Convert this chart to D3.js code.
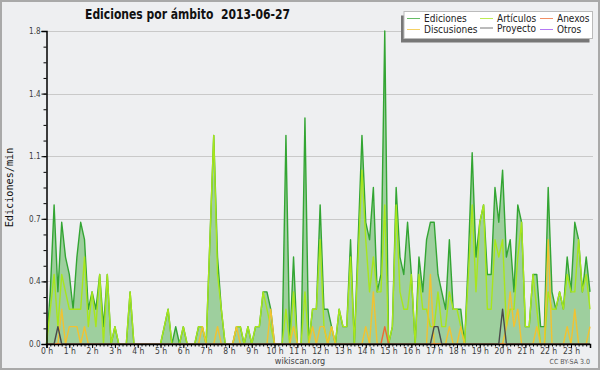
<!DOCTYPE html>
<html>
<head>
<meta charset="utf-8">
<script src="https://cdn.jsdelivr.net/npm/d3@7"></script>
<style>
  body { margin: 0; background: #eeeff1; }
  svg text { font-family: "DejaVu Sans Condensed", "DejaVu Sans", sans-serif; font-stretch: condensed; }
</style>
</head>
<body>
<div id="chart"></div>
<script>
// edits per minute, one value every 10 minutes (6 per hour, 0h .. 23h50)
var ediciones = [
  0, 0.3, 0.8, 0.3, 0.7, 0.5,
  0.4, 0.2, 0.5, 0.7, 0.6, 0.2,
  0.3, 0.2, 0.4, 0.1, 0.4, 0,
  0.1, 0, 0, 0, 0.3, 0,
  0, 0, 0, 0, 0, 0,
  0, 0.1, 0.2, 0, 0.1, 0,
  0.1, 0, 0, 0, 0.1, 0.1,
  0, 0.6, 1.2, 0.5, 0.2, 0,
  0, 0, 0.1, 0.1, 0, 0.1,
  0, 0.1, 0.1, 0.3, 0.3, 0.2,
  0, 0, 0, 1.2, 0, 0.5,
  0, 0, 1.3, 0, 0.2, 0.2,
  0.8, 0.2, 0.2, 0.1, 0, 0.2,
  0.1, 0.1, 0.6, 0, 0.6, 1.2,
  0.7, 0.6, 0.9, 0.3, 0.4, 1.8,
  0, 0.1, 0.9, 0.5, 0.4, 0.7,
  0.4, 0, 0.5, 0.3, 0.6, 0.7,
  0.7, 0.4, 0.3, 0.2, 0.6, 0.2,
  0.2, 0.2, 0, 0.5, 1.1, 0.5,
  0.7, 0.8, 0.4, 0.4, 0.9, 0.7,
  1.0, 0.5, 0.6, 0.3, 0.8, 0.7,
  0.1, 0.1, 0.4, 0.4, 0.1, 0.1,
  0.9, 0.3, 0.2, 0.3, 0.2, 0.5,
  0.3, 0.7, 0.6, 0.3, 0.5, 0.3
];
var articulos = [
  0, 0.2, 0.4, 0.1, 0.4, 0.3,
  0.2, 0.2, 0.2, 0.2, 0.5, 0.1,
  0.3, 0.1, 0.4, 0, 0.4, 0,
  0.1, 0, 0, 0, 0.3, 0,
  0, 0, 0, 0, 0, 0,
  0, 0.1, 0.2, 0, 0, 0,
  0.1, 0, 0, 0, 0.1, 0.1,
  0, 0.6, 1.2, 0.4, 0.2, 0,
  0, 0, 0.1, 0.1, 0, 0.1,
  0, 0.1, 0.1, 0.3, 0.2, 0.1,
  0, 0, 0, 0.2, 0, 0.3,
  0, 0, 0.3, 0, 0.2, 0.2,
  0.6, 0.1, 0, 0.1, 0, 0.2,
  0.1, 0.1, 0.5, 0, 0.5, 1.0,
  0.6, 0.3, 0.5, 0.3, 0.3, 0.8,
  0, 0.1, 0.8, 0.3, 0.2, 0.2,
  0.4, 0, 0.4, 0.2, 0.2, 0.1,
  0.1, 0.3, 0.1, 0.1, 0.3, 0.2,
  0.2, 0.1, 0, 0.4, 0.8, 0.3,
  0.7, 0.8, 0.2, 0.2, 0.6, 0.5,
  0.6, 0.1, 0.2, 0.2, 0.5, 0.7,
  0.1, 0.1, 0.4, 0.2, 0, 0,
  0.3, 0.2, 0.2, 0.3, 0.2, 0.4,
  0.3, 0.3, 0.6, 0.3, 0.4, 0.2
];
var discusiones = [
  0, 0, 0, 0, 0.2, 0,
  0.1, 0.1, 0.1, 0, 0.1, 0,
  0, 0, 0, 0, 0, 0,
  0, 0, 0, 0, 0, 0,
  0, 0, 0, 0, 0, 0,
  0, 0, 0, 0, 0, 0,
  0, 0, 0, 0, 0, 0.1,
  0, 0, 0, 0.1, 0, 0,
  0, 0, 0.1, 0, 0, 0,
  0, 0, 0, 0, 0, 0.2,
  0, 0, 0, 0, 0, 0.1,
  0, 0, 0, 0, 0.1, 0,
  0.1, 0.1, 0, 0.1, 0, 0,
  0, 0, 0, 0, 0, 0,
  0.1, 0, 0.3, 0, 0, 0,
  0, 0, 0, 0, 0, 0,
  0, 0, 0, 0, 0, 0.4,
  0, 0, 0, 0, 0.1, 0,
  0, 0.1, 0, 0, 0, 0,
  0, 0, 0, 0, 0, 0,
  0, 0.1, 0.3, 0.1, 0.2, 0,
  0, 0, 0, 0.1, 0, 0,
  0.6, 0, 0, 0, 0, 0.1,
  0, 0.2, 0, 0, 0, 0.1
];
var anexos = [
  0, 0, 0, 0, 0, 0,
  0, 0, 0, 0, 0, 0,
  0, 0, 0, 0, 0, 0,
  0, 0, 0, 0, 0, 0,
  0, 0, 0, 0, 0, 0,
  0, 0, 0, 0, 0, 0,
  0, 0, 0, 0, 0, 0,
  0, 0, 0, 0, 0, 0,
  0, 0, 0, 0, 0, 0,
  0, 0, 0, 0, 0, 0,
  0, 0, 0, 0, 0, 0,
  0, 0, 0, 0, 0, 0,
  0, 0, 0, 0, 0, 0,
  0, 0, 0, 0, 0, 0,
  0, 0, 0, 0, 0, 0.1,
  0, 0, 0, 0, 0, 0,
  0, 0, 0, 0, 0, 0,
  0, 0, 0, 0, 0, 0,
  0, 0, 0, 0, 0, 0,
  0, 0, 0, 0, 0, 0,
  0, 0, 0, 0, 0, 0,
  0, 0, 0, 0, 0, 0,
  0, 0, 0, 0, 0, 0,
  0, 0, 0, 0, 0, 0
];
var proyecto = [
  0, 0, 0, 0.1, 0, 0,
  0, 0, 0, 0, 0, 0,
  0, 0, 0, 0, 0, 0,
  0, 0, 0, 0, 0, 0,
  0, 0, 0, 0, 0, 0,
  0, 0, 0, 0, 0, 0,
  0, 0, 0, 0, 0, 0,
  0, 0, 0, 0, 0, 0,
  0, 0, 0, 0, 0, 0,
  0, 0, 0, 0, 0, 0,
  0, 0, 0, 0, 0, 0,
  0, 0, 0, 0, 0, 0,
  0, 0, 0, 0, 0, 0,
  0, 0, 0, 0, 0, 0,
  0, 0, 0, 0, 0, 0,
  0, 0, 0, 0, 0, 0,
  0, 0, 0, 0, 0, 0,
  0.1, 0.1, 0, 0, 0, 0,
  0, 0, 0, 0, 0, 0,
  0, 0, 0, 0, 0, 0,
  0.2, 0, 0, 0, 0, 0,
  0, 0, 0, 0, 0, 0,
  0, 0, 0, 0, 0, 0,
  0, 0, 0, 0, 0, 0
];
var otros = [];   // no edits in "Otros" that day

var yTicks = [0, 0.36, 0.72, 1.08, 1.44, 1.8];
var hourLabels = d3.range(24).map(function(h) { return h + " h"; });

var series = [
  {name: "Ediciones", data: ediciones, color: "#33a533"},
  {name: "Artículos", data: articulos, color: "#a8e61c"},
  {name: "Discusiones", data: discusiones, color: "#f2c230"},
  {name: "Anexos", data: anexos, color: "#ee6a32"},
  {name: "Proyecto", data: proyecto, color: "#4a4a4a"},
  {name: "Otros", data: otros, color: "#9b4cf0"}
];

var w = 600, h = 370;
// careful: "top" is taken by window.top
var padLeft = 46.5, padRight = 590, padTop = 31, padBottom = 344;

var svg = d3.select("#chart").append("svg")
  .attr("width", w)
  .attr("height", h);

svg.append("rect")
  .attr("x", 1).attr("y", 1)
  .attr("width", w - 2).attr("height", h - 2)
  .attr("fill", "#eeeff1")
  .attr("stroke", "#a9a9a9")
  .attr("stroke-width", 2);

// time in minutes since 0h
var xScale = d3.scaleLinear().domain([0, 1430]).range([padLeft, padRight]);
var yScale = d3.scaleLinear().domain([0, 1.8]).range([padBottom, padTop]);

// grid
svg.append("g").selectAll("line")
  .data(yTicks.slice(1))
  .enter().append("line")
  .attr("x1", padLeft).attr("x2", padRight + 3)
  .attr("y1", function(d) { return Math.round(yScale(d)) + 0.5; })
  .attr("y2", function(d) { return Math.round(yScale(d)) + 0.5; })
  .attr("stroke", "#c9c9c9")
  .attr("stroke-width", 1);

var line = d3.line()
  .x(function(d, i) { return xScale(i * 10); })
  .y(function(d) { return yScale(d); });

var area = d3.area()
  .x(function(d, i) { return xScale(i * 10); })
  .y0(yScale(0))
  .y1(function(d) { return yScale(d); });

svg.append("path")
  .datum(ediciones)
  .attr("fill", "#9ecf9e")
  .attr("d", area);

series.forEach(function(s) {
  if (!s.data.length) return;
  svg.append("path")
    .datum(s.data)
    .attr("fill", "none")
    .attr("stroke", s.color)
    .attr("stroke-width", 1.4)
    .attr("stroke-linejoin", "round")
    .attr("d", line);
});

// y axis, major + minor ticks
var yAxis = d3.axisLeft(yScale)
  .tickValues(yTicks)
  .tickSize(5)
  .tickPadding(1)
  .tickFormat(d3.format(".1f"));
var yMinor = d3.axisLeft(yScale)
  .tickValues(d3.range(0, 1.8001, 0.09))
  .tickSize(3)
  .tickFormat("");

var gy = svg.append("g").attr("transform", "translate(" + padLeft + ",0)").call(yMinor);
var gy2 = svg.append("g").attr("transform", "translate(" + padLeft + ",0)").call(yAxis);
gy.select(".domain").remove();
gy2.select(".domain").attr("stroke-width", 1.5);
gy2.selectAll("text").attr("font-size", 8).attr("fill", "#3c3c3c");

// x axis, hours + 10 minute ticks
var xAxis = d3.axisBottom(xScale)
  .tickValues(d3.range(0, 24).map(function(d) { return d * 60; }))
  .tickSize(4)
  .tickPadding(0)
  .tickFormat(function(d) { return hourLabels[d / 60]; });
var xMinor = d3.axisBottom(xScale)
  .tickValues(d3.range(0, 1431, 10))
  .tickSize(2.5)
  .tickFormat("");

var gx = svg.append("g").attr("transform", "translate(0," + padBottom + ")").call(xMinor);
var gx2 = svg.append("g").attr("transform", "translate(0," + padBottom + ")").call(xAxis);
gx.select(".domain").remove();
gx2.select(".domain").attr("stroke-width", 1.5);
gx2.selectAll("text").attr("font-size", 8.5).attr("fill", "#3c3c3c").attr("dy", "0.75em");
svg.selectAll(".tick line").attr("stroke", "#000");

// title squeezed to the reference width
svg.append("text")
  .attr("x", 85).attr("y", 19)
  .attr("font-size", 13.5)
  .attr("font-weight", "bold")
  .attr("fill", "#111")
  .attr("textLength", 205)
  .attr("lengthAdjust", "spacingAndGlyphs")
  .style("white-space", "pre")
  .text("Ediciones por ámbito  2013-06-27");

svg.append("text")
  .attr("transform", "translate(13," + ((padTop + padBottom) / 2) + ") rotate(-90)")
  .attr("text-anchor", "middle")
  .attr("font-family", "DejaVu Sans Mono")
  .style("font-family", "'DejaVu Sans Mono', monospace")
  .attr("font-size", 10.2)
  .attr("fill", "#111")
  .text("Ediciones/min");

svg.append("text")
  .attr("x", 300).attr("y", 364)
  .attr("text-anchor", "middle")
  .attr("font-size", 9)
  .attr("fill", "#444")
  .text("wikiscan.org");

svg.append("text")
  .attr("x", 590).attr("y", 364)
  .attr("text-anchor", "end")
  .attr("font-size", 7)
  .attr("fill", "#555")
  .text("CC BY-SA  3.0");

// legend box with shadow
var lx = 404, ly = 11.5, lw = 188.5, lh = 27;
svg.append("rect")
  .attr("x", lx - 3).attr("y", ly + 4)
  .attr("width", lw).attr("height", lh)
  .attr("fill", "#777");
svg.append("rect")
  .attr("x", lx).attr("y", ly)
  .attr("width", lw).attr("height", lh)
  .attr("fill", "#fff")
  .attr("stroke", "#bbb");

var legendPos = [
  [407, 18.5], [480, 18.5], [540, 18.5],
  [407, 29.5], [480, 28], [540, 29.5]
];
var legendOrder = [0, 1, 3, 2, 4, 5];
legendOrder.forEach(function(k, j) {
  var s = series[k], p = legendPos[j];
  svg.append("line")
    .attr("x1", p[0]).attr("x2", p[0] + 13)
    .attr("y1", p[1]).attr("y2", p[1])
    .attr("stroke", s.color)
    .attr("stroke-opacity", 0.75)
    .attr("stroke-width", 1);
  svg.append("text")
    .attr("x", p[0] + 17).attr("y", p[1] + 3.5)
    .attr("font-size", 10)
    .attr("fill", "#222")
    .text(s.name);
});
</script>
</body>
</html>
